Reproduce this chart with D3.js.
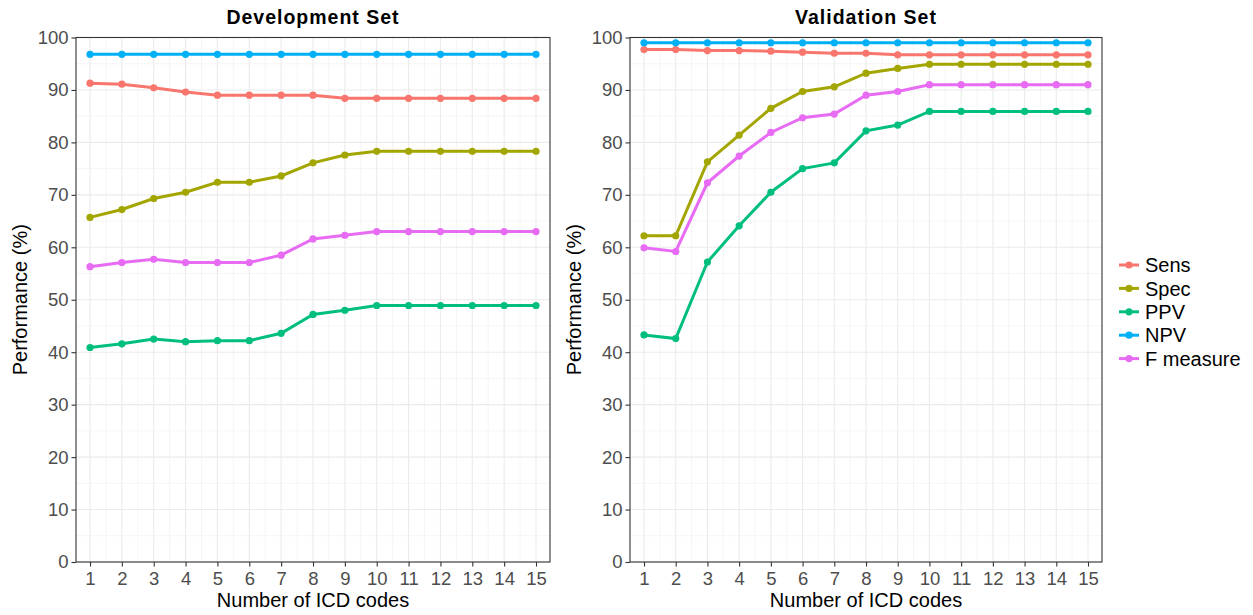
<!DOCTYPE html>
<html>
<head>
<meta charset="utf-8">
<script src="https://cdn.jsdelivr.net/npm/d3@7"></script>
<style>
  body { margin: 0; background: #fff; }
  svg text { font-family: "Liberation Sans", Arial, sans-serif; }
</style>
</head>
<body>
<div id="chart"></div>
<script>
// number of ICD codes
const codes = [1, 2, 3, 4, 5, 6, 7, 8, 9, 10, 11, 12, 13, 14, 15];
const seriesNames = ['Sens', 'Spec', 'PPV', 'NPV', 'F measure'];
const seriesColors = ['#F8766D', '#A3A500', '#00BF7D', '#00B0F6', '#E76BF3'];
const yTicks = [0, 10, 20, 30, 40, 50, 60, 70, 80, 90, 100];

// Development set
const devSens = [91.3, 91.1, 90.4, 89.6, 89.0, 89.0, 89.0, 89.0, 88.4, 88.4, 88.4, 88.4, 88.4, 88.4, 88.4];
const devSpec = [65.7, 67.2, 69.3, 70.5, 72.4, 72.4, 73.6, 76.1, 77.6, 78.3, 78.3, 78.3, 78.3, 78.3, 78.3];
const devPPV  = [40.9, 41.6, 42.5, 42.0, 42.2, 42.2, 43.6, 47.2, 48.0, 48.9, 48.9, 48.9, 48.9, 48.9, 48.9];
const devNPV  = [96.8, 96.8, 96.8, 96.8, 96.8, 96.8, 96.8, 96.8, 96.8, 96.8, 96.8, 96.8, 96.8, 96.8, 96.8];
const devF    = [56.3, 57.1, 57.7, 57.1, 57.1, 57.1, 58.5, 61.6, 62.3, 63.0, 63.0, 63.0, 63.0, 63.0, 63.0];

// Validation set
const valSens = [97.7, 97.7, 97.5, 97.5, 97.4, 97.2, 97.0, 97.0, 96.7, 96.7, 96.7, 96.7, 96.7, 96.7, 96.7];
const valSpec = [62.2, 62.2, 76.3, 81.4, 86.5, 89.7, 90.6, 93.2, 94.1, 94.9, 94.9, 94.9, 94.9, 94.9, 94.9];
const valPPV  = [43.3, 42.6, 57.2, 64.1, 70.5, 75.0, 76.1, 82.2, 83.3, 85.9, 85.9, 85.9, 85.9, 85.9, 85.9];
const valNPV  = [99.0, 99.0, 99.0, 99.0, 99.0, 99.0, 99.0, 99.0, 99.0, 99.0, 99.0, 99.0, 99.0, 99.0, 99.0];
const valF    = [59.9, 59.2, 72.3, 77.4, 81.9, 84.7, 85.4, 89.0, 89.7, 91.0, 91.0, 91.0, 91.0, 91.0, 91.0];

const devData = [devSens, devSpec, devPPV, devNPV, devF];
const valData = [valSens, valSpec, valPPV, valNPV, valF];

const width = 1253, height = 615;
const svg = d3.select('#chart').append('svg')
    .attr('width', width)
    .attr('height', height);

function drawPanel(cfg, title, data) {
  const g = svg.append('g');

  const x = d3.scaleLinear()
      .domain([1, 15])
      .range([cfg.left + 14, cfg.right - 14]);
  const y = d3.scaleLinear()
      .domain([0, 100])
      .range([cfg.bottom, cfg.top]);

  // minor grid
  const xMinor = d3.range(1.5, 15, 1);
  const yMinor = d3.range(5, 100, 10);
  g.selectAll('.xminor').data(xMinor).join('line')
      .attr('x1', d => x(d)).attr('x2', d => x(d))
      .attr('y1', cfg.top).attr('y2', cfg.bottom)
      .attr('stroke', '#F3F3F3').attr('stroke-width', 0.8);
  g.selectAll('.yminor').data(yMinor).join('line')
      .attr('x1', cfg.left).attr('x2', cfg.right)
      .attr('y1', d => y(d)).attr('y2', d => y(d))
      .attr('stroke', '#F3F3F3').attr('stroke-width', 0.8);

  // major grid
  g.selectAll('.xmajor').data(codes).join('line')
      .attr('x1', d => x(d)).attr('x2', d => x(d))
      .attr('y1', cfg.top).attr('y2', cfg.bottom)
      .attr('stroke', '#EBEBEB').attr('stroke-width', 1.1);
  g.selectAll('.ymajor').data(yTicks).join('line')
      .attr('x1', cfg.left).attr('x2', cfg.right)
      .attr('y1', d => y(d)).attr('y2', d => y(d))
      .attr('stroke', '#EBEBEB').attr('stroke-width', 1.1);

  // series
  const line = d3.line()
      .x((d, i) => x(codes[i]))
      .y(d => y(d));

  data.forEach((vals, s) => {
    g.append('path')
        .datum(vals)
        .attr('d', line)
        .attr('fill', 'none')
        .attr('stroke', seriesColors[s])
        .attr('stroke-width', 3);
    g.selectAll('.pt' + s).data(vals).join('circle')
        .attr('cx', (d, i) => x(codes[i]))
        .attr('cy', d => y(d))
        .attr('r', 3.6)
        .attr('fill', seriesColors[s]);
  });

  // panel border
  g.append('rect')
      .attr('x', cfg.left).attr('y', cfg.top)
      .attr('width', cfg.right - cfg.left)
      .attr('height', cfg.bottom - cfg.top)
      .attr('fill', 'none')
      .attr('stroke', '#333333')
      .attr('stroke-width', 1.1);

  // axes
  const yAxis = g.append('g')
      .attr('transform', `translate(${cfg.left},0)`)
      .call(d3.axisLeft(y).tickValues(yTicks).tickSize(4.5).tickPadding(3));
  const xAxis = g.append('g')
      .attr('transform', `translate(0,${cfg.bottom})`)
      .call(d3.axisBottom(x).tickValues(codes).tickSize(4.5).tickPadding(5));
  [xAxis, yAxis].forEach(a => {
    a.select('.domain').remove();
    a.selectAll('.tick line').attr('stroke', '#333333').attr('stroke-width', 1.1);
    a.selectAll('.tick text')
        .attr('fill', '#4D4D4D')
        .style('font-size', '18.5px');
  });

  // titles
  g.append('text')
      .attr('x', (cfg.left + cfg.right) / 2)
      .attr('y', 24)
      .attr('text-anchor', 'middle')
      .style('font-size', '19.5px')
      .style('font-weight', 'bold')
      .style('letter-spacing', '1px')
      .text(title);

  g.append('text')
      .attr('x', (cfg.left + cfg.right) / 2)
      .attr('y', 607)
      .attr('text-anchor', 'middle')
      .style('font-size', '20px')
      .text('Number of ICD codes');

  g.append('text')
      .attr('transform', `translate(${cfg.left - 49},${(cfg.top + cfg.bottom) / 2}) rotate(-90)`)
      .attr('text-anchor', 'middle')
      .style('font-size', '20px')
      .text('Performance (%)');
}

drawPanel({left: 76, right: 550, top: 37.5, bottom: 562}, 'Development Set', devData);
drawPanel({left: 630, right: 1102, top: 37.5, bottom: 562}, 'Validation Set', valData);

// legend
const legend = svg.append('g')
    .attr('transform', 'translate(1119,265)');
const items = legend.selectAll('.item')
    .data(seriesNames)
  .join('g')
    .attr('transform', (d, i) => `translate(0,${i * 23.4})`);
items.append('line')
    .attr('x1', 0).attr('x2', 20)
    .attr('stroke', (d, i) => seriesColors[i])
    .attr('stroke-width', 3);
items.append('circle')
    .attr('cx', 10).attr('r', 3.6)
    .attr('fill', (d, i) => seriesColors[i]);
items.append('text')
    .attr('x', 26)
    .attr('dy', '0.36em')
    .style('font-size', '20px')
    .attr('fill', '#000')
    .text(d => d);
</script>
</body>
</html>
